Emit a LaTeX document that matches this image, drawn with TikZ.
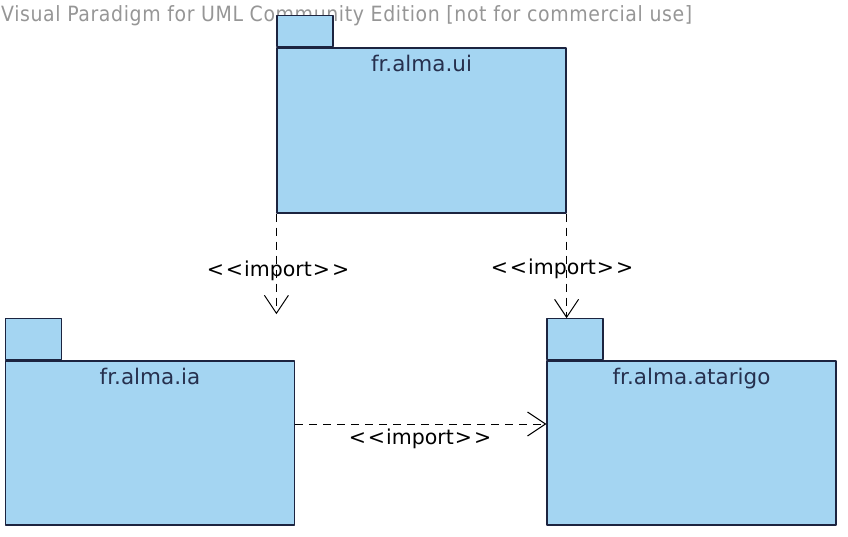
\documentclass[tikz,border=0pt]{standalone}
\usepackage{fontspec}
\setmainfont{DejaVu Sans}
\newfontfamily\wmfont{DejaVu Sans Condensed}[LetterSpace=3]
\usetikzlibrary{arrows.meta,positioning}
\definecolor{pkgfill}{RGB}{164,213,242}
\definecolor{pkgline}{RGB}{28,36,64}
\definecolor{pkgtext}{RGB}{38,48,78}
\definecolor{wmark}{RGB}{150,150,150}
\newcommand{\importlbl}{\textless\kern2pt\textless\kern1pt import\kern1pt\textgreater\kern2pt\textgreater}
\begin{document}
\begin{tikzpicture}[x=1pt, y=-1pt, line join=round,
    pkg/.style={draw=pkgline, fill=pkgfill, line width=1.2pt, inner sep=0pt, minimum width=289pt, minimum height=164pt},
    pkgtab/.style={draw=pkgline, fill=pkgfill, line width=1.2pt, inner sep=0pt, minimum width=56pt, minimum height=41pt, anchor=south west},
    pkgname/.style={text=pkgtext, font=\fontsize{21.5}{24}\selectfont, inner sep=0pt},
    dep/.style={dashed, dash pattern=on 8pt off 6pt, line width=1pt, -{Straight Barb[length=18pt, width=24pt, line width=1pt]}},
    stereo/.style={font=\fontsize{20.5}{24}\selectfont, inner sep=0pt}]
    \useasboundingbox (0,0) rectangle (848,536);
    % watermark
    \node[anchor=west, text=wmark, font=\wmfont\fontsize{21}{24}\selectfont, inner sep=0pt] (wm) at (1,16) {Visual Paradigm for UML Community Edition [not for commercial use]};
    % packages
    \node[pkg, minimum height=165pt] (ui) at (421.5,130.5) {};
    \node[pkgtab, minimum height=31pt] (uitab) at (ui.north west) {};
    \node[pkgname, below=8pt of ui.north] (uiname) {fr.alma.ui};
    \node[pkg] (ia) at (150,443) {};
    \node[pkgtab] (iatab) at (ia.north west) {};
    \node[pkgname, below=8pt of ia.north] (ianame) {fr.alma.ia};
    \node[pkg] (at) at (691.5,443) {};
    \node[pkgtab] (attab) at (at.north west) {};
    \node[pkgname, below=8pt of at.north] (atname) {fr.alma.atarigo};
    % dependencies
    \draw[dep, shorten >=4pt] (ui.south west) -- (ui.south west |- iatab.north);
    \draw[dep] (ui.south east) -- (ui.south east |- attab.north);
    \draw[dep] ([yshift=19pt]ia.east) -- ([yshift=19pt]at.west);
    \node[stereo] (imp1) at (278,271) {\importlbl};
    \node[stereo] (imp2) at (562,269) {\importlbl};
    \node[stereo] (imp3) at (420,439) {\importlbl};
\end{tikzpicture}
\end{document}
